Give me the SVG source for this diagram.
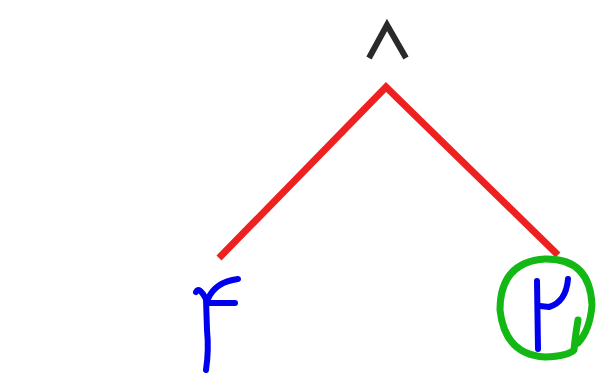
<svg xmlns="http://www.w3.org/2000/svg" width="602" height="375" viewBox="0 0 602 375">
<style>
.sym{fill:none;stroke:#2a2a2a;stroke-width:6;stroke-linecap:butt;stroke-linejoin:miter}
.edge{fill:none;stroke:#ee2020;stroke-width:7;stroke-linecap:butt}
.ink{fill:none;stroke:#0000ee;stroke-width:6;stroke-linecap:round;stroke-linejoin:round}
.circ{fill:none;stroke:#14b814;stroke-width:7;stroke-linecap:round;stroke-linejoin:round}
</style>
<g id="connectors">
<path class="edge" d="M219,258 L386,87 L558,255"/>
</g>
<g id="root">
<path class="sym" d="M369,58 L387,25 L406,58"/>
</g>
<g id="left-leaf">
<path class="ink" d="M196,292 Q199,286 206,299 L207,330 Q209,350 206,370"/>
<path class="ink" d="M208,299 Q215,282 238,279"/>
<path class="ink" d="M209,303 L235,303"/>
</g>
<g id="right-leaf">
<path class="ink" d="M537,281 L538,349"/>
<path class="ink" d="M568,279 Q566,302 549,307 L540,306"/>
<path class="circ" d="M578,320 Q575,338 574,350 Q568,356 545,357 Q505,355 500,310 Q500,262 545,259 Q590,258 592,305 Q590,330 578,343"/>
</g>
</svg>
